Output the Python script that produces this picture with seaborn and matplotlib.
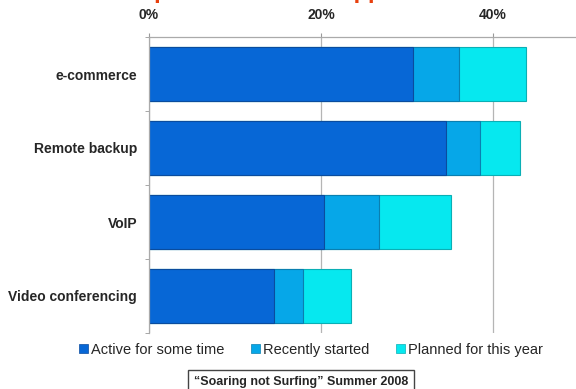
import matplotlib
matplotlib.use("Agg")
import matplotlib.pyplot as plt
import seaborn as sns
import pandas as pd
import numpy as np
from matplotlib.patches import Patch
from matplotlib.ticker import FixedLocator, FuncFormatter

categories = ["e-commerce", "Remote backup", "VoIP", "Video conferencing"]
series_names = ["Active for some time", "Recently started", "Planned for this year"]
active = [30.7, 34.5, 20.3, 14.5]
recent = [5.3, 4.0, 6.4, 3.4]
planned = [7.8, 4.6, 8.4, 5.6]
tick_values = [0, 20, 40]
title_text = "Business adoption of internet applications"
source_text = "\u201cSoaring not Surfing\u201d Summer 2008"

colors = ["#0767D6", "#06A7E8", "#06E8EF"]
edges = ["#0A4C9E", "#0A7FB0", "#0AAFB5"]

sns.set_style("white")
plt.rcParams["font.family"] = ["Liberation Sans", "DejaVu Sans"]

df = pd.DataFrame({"category": categories, "active": active,
                   "recent": recent, "planned": planned})
df["c1"] = df["active"]
df["c2"] = df["active"] + df["recent"]
df["c3"] = df["c2"] + df["planned"]

fig = plt.figure(figsize=(5.76, 3.89), dpi=100)
ax = fig.add_axes([149/576, 1-333/389, 1-149/576, (333-37)/389])

for col, c, e in zip(["c3", "c2", "c1"], colors[::-1], edges[::-1]):
    sns.barplot(data=df, x=col, y="category", order=categories, orient="h",
                color=c, width=0.72, ax=ax, saturation=1,
                edgecolor=e, linewidth=0.8)

ax.set_xlim(0, 49.65)
ax.set_ylim(3.5, -0.5)
ax.set_xlabel("")
ax.set_ylabel("")
ax.xaxis.tick_top()
ax.xaxis.set_major_locator(FixedLocator(tick_values))
ax.xaxis.set_major_formatter(FuncFormatter(lambda v, p: f"{int(v)}%"))
ax.tick_params(axis="x", which="major", top=True, length=3, color="#999999",
               labelsize=10, pad=8)
for lab in ax.get_xticklabels():
    lab.set_fontweight("bold")
ax.set_axisbelow(True)
ax.grid(axis="x", color="#b5b5b5", linewidth=0.9)
ax.grid(axis="y", visible=False)

ax.set_yticks(range(len(categories)))
ax.set_yticklabels(categories, fontsize=10, fontweight="bold")
ax.tick_params(axis="y", which="major", length=0, pad=8.5)
ax.set_yticks(np.arange(-0.5, len(categories), 1.0), minor=True)
ax.tick_params(axis="y", which="minor", left=True, length=3, color="#999999")

for s in ["right", "bottom"]:
    ax.spines[s].set_visible(False)
for s in ["top", "left"]:
    ax.spines[s].set_color("#aaaaaa")
    ax.spines[s].set_linewidth(0.9)

handles = [Patch(facecolor=c, edgecolor=e, linewidth=0.5) for c, e in zip(colors, edges)]
fig.legend(handles, series_names, loc="center", bbox_to_anchor=(0.54, 1-350/389),
           ncol=3, frameon=False, fontsize=10.5, handlelength=0.6, handleheight=0.6,
           handletextpad=0.25, columnspacing=1.8)

fig.text(0.523, 1-382/389, source_text, ha="center", va="center", fontsize=9,
         fontweight="bold", family=["Liberation Sans", "DejaVu Sans"],
         bbox=dict(boxstyle="square,pad=0.45", fc="white", ec="#444444", lw=1))

fig.text(0.0, 1+1.5/389, title_text, ha="left", va="baseline", fontsize=17,
         fontweight="bold", color="#E8400E")

fig.savefig("out.png", dpi=100)
